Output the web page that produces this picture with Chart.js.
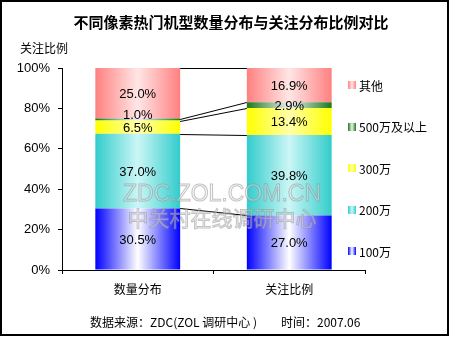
<!DOCTYPE html>
<html>
<head>
<meta charset="utf-8">
<script src="https://cdn.jsdelivr.net/npm/chart.js@4/dist/chart.umd.min.js"></script>
<style>
  html, body { margin: 0; padding: 0; background: #fff; }
  #wrap { width: 450px; height: 337px; position: relative; }
</style>
</head>
<body>
<div id="wrap"><canvas id="pixelChart"></canvas></div>
<script>
// chart data
const categories = ["数量分布", "关注比例"];
const seriesNames = ["100万", "200万", "300万", "500万及以上", "其他"];
const share100 = [30.5, 27.0];
const share200 = [37.0, 39.8];
const share300 = [6.5, 13.4];
const share500 = [1.0, 2.9];
const shareOther = [25.0, 16.9];
const yTicks = [0, 20, 40, 60, 80, 100];

const seriesValues = [share100, share200, share300, share500, shareOther];
const BAR_PCT = 0.56;
// edge colour / centre colour for the horizontal gradient
const barColors = [
  ["#0000FF", "#FFFFFF"],
  ["#33CCCC", "#CCF6F6"],
  ["#FFFF00", "#FFFFA8"],
  ["#1A7A1A", "#F0F0F0"],
  ["#FF8080", "#FFE6E6"]
];

const CJK = '"Noto Sans CJK SC", "Liberation Sans", sans-serif';
const LATIN = '"Liberation Sans", Arial, sans-serif';

function barGradient(ctx, x0, x1, pair) {
  const g = ctx.createLinearGradient(x0, 0, x1, 0);
  g.addColorStop(0, pair[0]);
  g.addColorStop(0.5, pair[1]);
  g.addColorStop(1, pair[0]);
  return g;
}

function scriptedFill(dsIndex) {
  return function (context) {
    const chart = context.chart;
    const xs = chart.scales.x;
    if (!chart.chartArea || !xs || context.dataIndex === undefined) return barColors[dsIndex][0];
    const cx = xs.getPixelForValue(context.dataIndex);
    const half = (chart.chartArea.width / categories.length) * BAR_PCT / 2;
    return barGradient(chart.ctx, cx - half, cx + half, barColors[dsIndex]);
  };
}

const extras = {
  id: "extras",
  beforeDraw(chart) {
    const ctx = chart.ctx;
    ctx.save();
    ctx.fillStyle = "#fff";
    ctx.fillRect(0, 0, chart.width, chart.height);
    ctx.restore();
  },
  afterDatasetsDraw(chart) {
    const ctx = chart.ctx;
    const y = chart.scales.y;
    ctx.save();

    // series lines between the bars
    ctx.strokeStyle = "#000";
    ctx.lineWidth = 1;
    let cum = [0, 0];
    seriesValues.forEach((vals, i) => {
      cum = cum.map((c, k) => c + vals[k]);
      const meta = chart.getDatasetMeta(i);
      const a = meta.data[0], b = meta.data[1];
      ctx.beginPath();
      ctx.moveTo(a.x + a.width / 2, Math.round(y.getPixelForValue(cum[0])) + 0.5);
      ctx.lineTo(b.x - b.width / 2, Math.round(y.getPixelForValue(cum[1])) + 0.5);
      ctx.stroke();
    });

    // watermark
    ctx.textAlign = "center";
    ctx.textBaseline = "middle";
    ctx.lineWidth = 1;
    ctx.strokeStyle = "rgba(140,140,140,0.5)";
    ctx.fillStyle = "rgba(240,240,240,0.4)";
    ctx.font = "23px " + LATIN;
    ctx.fillText("ZDC.ZOL.COM.CN", 222, 195);
    ctx.strokeText("ZDC.ZOL.COM.CN", 222, 195);
    ctx.font = "21px " + CJK;
    ctx.fillText("中关村在线调研中心", 222, 218);
    ctx.strokeText("中关村在线调研中心", 222, 218);

    // value labels, nudged apart when a segment is too thin
    ctx.fillStyle = "#000";
    ctx.font = "13px " + LATIN;
    categories.forEach((c, k) => {
      let prevY = Infinity;
      seriesValues.forEach((vals, i) => {
        const el = chart.getDatasetMeta(i).data[k];
        let ly = (el.y + el.base) / 2 + 1;
        if (prevY - ly < 13) ly = prevY - 13;
        ctx.fillText(vals[k].toFixed(1) + "%", el.x, ly);
        prevY = ly;
      });
    });
    ctx.restore();
  },
  afterDraw(chart) {
    const ctx = chart.ctx;
    ctx.save();
    ctx.fillStyle = "#000";
    ctx.textBaseline = "middle";

    ctx.textAlign = "center";
    ctx.font = "bold 15px " + CJK;
    ctx.fillText("不同像素热门机型数量分布与关注分布比例对比", 231, 22);

    ctx.textAlign = "left";
    ctx.font = "12px " + CJK;
    ctx.fillText("关注比例", 20, 48);

    // legend, top of the stack first
    for (let i = seriesNames.length - 1; i >= 0; i--) {
      const row = seriesNames.length - 1 - i;
      const cy = 85 + row * 41.5;
      ctx.fillStyle = barGradient(ctx, 348, 356, barColors[i]);
      ctx.fillRect(348, Math.round(cy) - 4, 8, 8);
      ctx.fillStyle = "#000";
      ctx.fillText(seriesNames[i], 359, cy + 1);
    }

    ctx.fillText("数据来源：ZDC(ZOL 调研中心 )", 90, 322);
    ctx.fillText("时间：2007.06", 281, 322);

    ctx.strokeStyle = "#000";
    ctx.lineWidth = 2;
    ctx.strokeRect(1, 1, 447, 334);
    ctx.restore();
  }
};

new Chart(document.getElementById("pixelChart"), {
  type: "bar",
  plugins: [extras],
  data: {
    labels: categories,
    datasets: seriesValues.map((vals, i) => ({
      label: seriesNames[i],
      data: vals,
      backgroundColor: scriptedFill(i),
      borderWidth: 0,
      barPercentage: BAR_PCT,
      categoryPercentage: 1
    }))
  },
  options: {
    responsive: true,
    maintainAspectRatio: false,
    animation: false,
    events: [],
    layout: { padding: { top: 68, right: 85, bottom: 37, left: 0 } },
    plugins: { legend: { display: false }, tooltip: { enabled: false } },
    scales: {
      x: {
        stacked: true,
        afterFit(scale) { scale.height = 30; },
        border: { display: true, color: "#000", width: 1 },
        grid: { drawOnChartArea: false, color: "#000", tickLength: 4 },
        ticks: { color: "#000", padding: 8, font: { family: CJK, size: 12 } }
      },
      y: {
        stacked: true,
        min: 0,
        max: 100,
        afterFit(scale) { scale.width = 62; },
        afterBuildTicks(scale) { scale.ticks = yTicks.map(v => ({ value: v })); },
        border: { display: true, color: "#000", width: 1 },
        grid: { drawOnChartArea: false, color: "#000", tickLength: 4 },
        ticks: {
          color: "#000",
          padding: 8,
          font: { family: LATIN, size: 13 },
          callback: v => v + "%"
        }
      }
    }
  }
});
</script>
</body>
</html>
